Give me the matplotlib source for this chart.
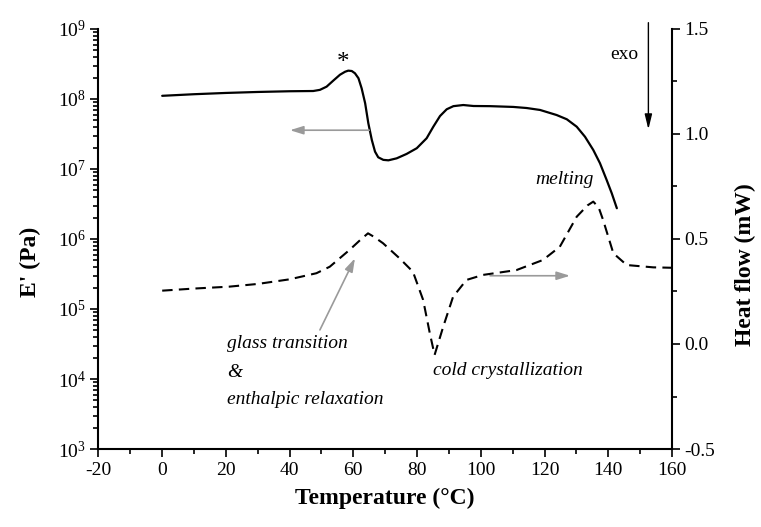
import matplotlib
matplotlib.use("Agg")
import matplotlib.pyplot as plt
from matplotlib.ticker import MultipleLocator, LogLocator, NullFormatter

plt.rcParams["font.family"] = ["Liberation Serif", "DejaVu Serif"]
plt.rcParams["mathtext.fontset"] = "custom"
plt.rcParams["mathtext.rm"] = "Liberation Serif"
plt.rcParams["mathtext.it"] = "Liberation Serif:italic"
plt.rcParams["mathtext.bf"] = "Liberation Serif:bold"
plt.rcParams["axes.unicode_minus"] = False

# Storage modulus E' (Pa) vs temperature
temp_e = [0, 10, 20, 30, 40, 47.4, 49.5, 51.6, 53.7, 55.8, 57.4, 58.4, 59.5, 60.5,
          61.6, 62.6, 63.7, 64.7, 65.8, 66.8, 67.8, 69.4, 71.0, 73.6, 76.7, 79.9,
          83.0, 85.1, 87.2, 89.3, 91.4, 94.5, 97.7, 102.9, 110.2, 114.4, 118.6,
          123.8, 127.0, 130.1, 132.7, 135.3, 137.4, 139.5, 141.1, 142.7]
e_mod = [1.11e8, 1.17e8, 1.22e8, 1.26e8, 1.29e8, 1.30e8, 1.35e8, 1.50e8, 1.83e8,
         2.22e8, 2.45e8, 2.54e8, 2.51e8, 2.33e8, 1.98e8, 1.42e8, 8.7e7, 4.5e7,
         2.59e7, 1.77e7, 1.47e7, 1.35e7, 1.33e7, 1.42e7, 1.64e7, 1.98e7, 2.75e7,
         4.02e7, 5.71e7, 7.13e7, 7.9e7, 8.2e7, 7.94e7, 7.9e7, 7.7e7, 7.43e7,
         6.97e7, 5.9e7, 5.13e7, 4.02e7, 2.89e7, 1.87e7, 1.21e7, 6.97e6, 4.5e6,
         2.75e6]

# DSC heat flow (mW) vs temperature
temp_hf = [0, 10, 21, 30, 40, 48.4, 52.6, 58.8, 62.5, 64.6, 66.5, 69.3, 74.5, 78.7,
           81.9, 84, 85.5, 88.2, 91.3, 95.5, 100.7, 111.2, 119.5, 124.8, 130.1,
           133.5, 135.3, 137.0, 138.4, 141.6, 145.8, 154.1, 160]
heat_flow = [0.254, 0.264, 0.273, 0.286, 0.308, 0.337, 0.368, 0.448, 0.500, 0.527,
             0.510, 0.480, 0.408, 0.344, 0.21, 0.051, -0.052, 0.082, 0.225, 0.305,
             0.329, 0.352, 0.40, 0.463, 0.606, 0.660, 0.678, 0.650, 0.59, 0.432,
             0.376, 0.365, 0.363]

x_ticks = [-20, 0, 20, 40, 60, 80, 100, 120, 140, 160]
hf_ticks = [-0.5, 0.0, 0.5, 1.0, 1.5]

fig = plt.figure(figsize=(7.61, 5.27), dpi=100)
ax = fig.add_axes([0.1294, 0.148, 0.7536, 0.797])
ax2 = ax.twinx()

ax.plot(temp_e, e_mod, color="black", lw=1.6, solid_capstyle="round",
        solid_joinstyle="round")
ax2.plot(temp_hf, heat_flow, color="black", lw=1.5, dashes=(5, 3))

ax.set_xlim(-20, 160)
ax.set_yscale("log")
ax.set_ylim(1e3, 1e9)
ax2.set_ylim(-0.5, 1.5)

ax.set_xticks(x_ticks)
ax.set_xticklabels([str(t) for t in x_ticks])
ax.xaxis.set_minor_locator(MultipleLocator(10))
ax.yaxis.set_major_locator(LogLocator(base=10, numticks=20))
ax.yaxis.set_minor_locator(LogLocator(base=10, subs=range(2, 10), numticks=20))
ax.yaxis.set_minor_formatter(NullFormatter())
ax2.set_yticks(hf_ticks)
ax2.set_yticklabels([f"{v:.1f}" for v in hf_ticks])
ax2.yaxis.set_minor_locator(MultipleLocator(0.25))

for a in (ax, ax2):
    a.spines["top"].set_visible(False)
    for s in a.spines.values():
        s.set_linewidth(1.5)
    a.tick_params(which="major", direction="out", length=6, width=1.2,
                  labelsize=14, pad=3)
    a.tick_params(which="minor", direction="out", length=3.5, width=1.2)
ax.spines["right"].set_visible(False)
ax2.spines["left"].set_visible(False)
ax2.spines["bottom"].set_visible(False)

ax.set_xlabel("Temperature (°C)", fontsize=17, fontweight="bold", labelpad=7)
ax.set_ylabel("E' (Pa)", fontsize=17, fontweight="bold", labelpad=12)
ax2.set_ylabel("Heat flow (mW)", fontsize=17, fontweight="bold", labelpad=14)
ax.yaxis.label.set_y(0.445)
ax2.yaxis.label.set_y(0.44)

# annotations, placed in heat-flow data coordinates
grey = "#9a9a9a"
ax2.text(56.8, 1.34, "*", fontsize=18, ha="center", va="center")
ax2.annotate("", xy=(40.1, 1.018), xytext=(65.0, 1.018),
             arrowprops=dict(arrowstyle="-|>,head_length=0.8,head_width=0.25",
                             color=grey, lw=1.2, shrinkA=0, shrinkB=0))
ax2.annotate("", xy=(128.0, 0.325), xytext=(102.9, 0.325),
             arrowprops=dict(arrowstyle="-|>,head_length=0.8,head_width=0.25",
                             color=grey, lw=1.2, shrinkA=0, shrinkB=0))
ax2.annotate("", xy=(60.5, 0.408), xytext=(49.5, 0.067),
             arrowprops=dict(arrowstyle="-|>,head_length=0.8,head_width=0.25",
                             color=grey, lw=1.2, shrinkA=0, shrinkB=0))
ax2.annotate("", xy=(152.6, 1.022), xytext=(152.6, 1.53),
             annotation_clip=False,
             arrowprops=dict(arrowstyle="-|>,head_length=0.9,head_width=0.22",
                             color="black", lw=1.0, shrinkA=0, shrinkB=0))
ax2.text(145.0, 1.38, "exo", fontsize=14, ha="center", va="center")
ax2.text(126.4, 0.781, "melting", fontsize=14, style="italic",
         ha="center", va="center")
ax2.text(108.4, -0.124, "cold crystallization", fontsize=14, style="italic",
         ha="center", va="center")
ax2.text(20.3, 0.0, "glass transition", fontsize=14, style="italic",
         ha="left", va="center")
ax2.text(20.3, -0.138, "&", fontsize=14, style="italic", ha="left", va="center")
ax2.text(20.3, -0.262, "enthalpic relaxation", fontsize=14, style="italic",
         ha="left", va="center")

fig.savefig("out.png", dpi=100)
